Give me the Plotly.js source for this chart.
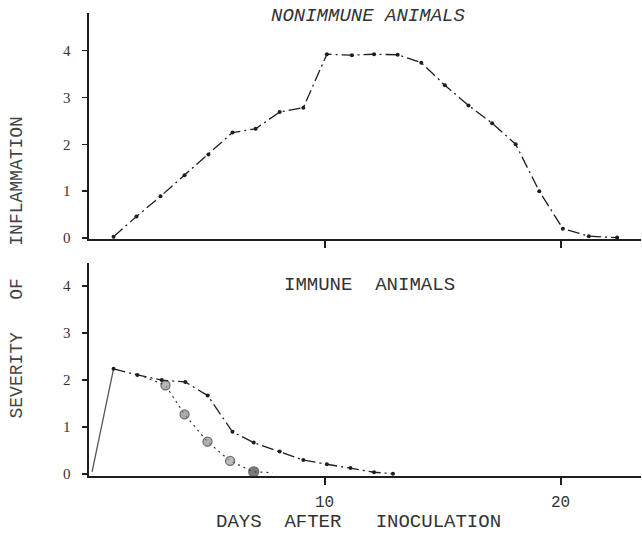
<!DOCTYPE html>
<html>
<head>
<meta charset="utf-8">
<script src="https://cdn.plot.ly/plotly-3.0.1.min.js"></script>
<style>html,body{margin:0;padding:0;background:#fff;}#chart{width:642px;height:540px;}</style>
</head>
<body>
<div id="chart"></div>
<script>
// ---- data ----
const nonImmuneDays = [1.06, 2.03, 3.05, 4.07, 5.08, 6.1, 7.08, 8.1, 9.1, 10.1, 11.16, 12.1, 13.1, 14.1, 15.1, 16.1, 17.1, 18.1, 19.1, 20.1, 21.2, 22.4];
const nonImmuneSeverity = [0.03, 0.46, 0.89, 1.34, 1.78, 2.25, 2.33, 2.69, 2.78, 3.92, 3.9, 3.92, 3.91, 3.74, 3.26, 2.83, 2.45, 2.0, 1.0, 0.2, 0.04, 0.01];

const immuneRiseDays = [0.15, 1.06];
const immuneRiseSeverity = [0.05, 2.24];

const immuneDays = [1.06, 2.07, 3.1, 4.1, 5.05, 6.1, 7.0, 8.1, 9.1, 10.1, 11.1, 12.1, 12.9];
const immuneSeverity = [2.24, 2.11, 2.0, 1.96, 1.67, 0.9, 0.67, 0.48, 0.3, 0.21, 0.13, 0.04, 0.01];

const immuneTreatedDays = [2.35, 3.26, 4.07, 5.04, 6.0, 7.0, 7.8];
const immuneTreatedSeverity = [2.07, 1.89, 1.27, 0.69, 0.28, 0.05, 0.03];

const xTickVals = [10, 20];
const xTickText = ["10", "20"];
const yTickVals = [0, 1, 2, 3, 4];
const yTickText = ["0", "1", "2", "3", "4"];

const ink = '#1e1e1e';
const dashDot = '12px,4px,2px,4px';

const traces = [
  {x: nonImmuneDays, y: nonImmuneSeverity, xaxis: 'x', yaxis: 'y', mode: 'lines+markers',
   line: {color: ink, width: 1.3, dash: dashDot}, marker: {color: ink, size: 4}},
  {x: immuneRiseDays, y: immuneRiseSeverity, xaxis: 'x2', yaxis: 'y2', mode: 'lines',
   line: {color: '#555', width: 1.3}},
  {x: immuneDays, y: immuneSeverity, xaxis: 'x2', yaxis: 'y2', mode: 'lines+markers',
   line: {color: ink, width: 1.3, dash: dashDot}, marker: {color: ink, size: 4}},
  {x: immuneTreatedDays, y: immuneTreatedSeverity, xaxis: 'x2', yaxis: 'y2', mode: 'lines+markers',
   line: {color: '#333', width: 1.2, dash: '2px,4px'},
   marker: {color: ['#222', '#9a9a9a', '#8a8a8a', '#909090', '#a0a0a0', '#444', '#222'],
            size: [0, 9, 9, 9, 9, 10, 0], line: {color: '#333', width: 1.3}}}
];

const xBase = {
  range: [0, 23.41], showline: true, linecolor: ink, linewidth: 1.5, showgrid: false, zeroline: false,
  tickmode: 'array', tickvals: xTickVals, ticktext: xTickText, ticks: 'outside', ticklen: 7,
  tickwidth: 2, tickcolor: ink, fixedrange: true
};
const yBase = {
  showline: true, linecolor: ink, linewidth: 2, showgrid: false, zeroline: false,
  tickmode: 'array', tickvals: yTickVals, ticktext: yTickText, ticks: 'outside', ticklen: 5,
  tickwidth: 1.5, tickcolor: ink, ticklabelstandoff: 8,
  tickfont: {family: 'Liberation Serif', size: 15, color: '#333'}, fixedrange: true
};

const layout = {
  width: 642, height: 540, margin: {l: 0, r: 0, t: 0, b: 0},
  paper_bgcolor: '#fff', plot_bgcolor: 'rgba(0,0,0,0)', showlegend: false,
  xaxis: Object.assign({}, xBase, {domain: [0.1379, 0.9984], anchor: 'y', showticklabels: false}),
  yaxis: Object.assign({}, yBase, {domain: [0.5574, 0.9759], range: [-0.02, 4.8], anchor: 'x'}),
  xaxis2: Object.assign({}, xBase, {domain: [0.1379, 0.9984], anchor: 'y2', showticklabels: true,
    ticklabelstandoff: 3, tickfont: {family: 'Liberation Mono', size: 16, color: '#333'}}),
  yaxis2: Object.assign({}, yBase, {domain: [0.1185, 0.5130], range: [-0.04, 4.49], anchor: 'x2'}),
  annotations: [
    {text: 'NONIMMUNE ANIMALS', xref: 'paper', yref: 'paper', x: 0.573, y: 0.970, showarrow: false,
     xanchor: 'center', yanchor: 'middle', font: {family: 'Liberation Mono', size: 19, color: '#333', style: 'italic'}},
    {text: 'IMMUNE\u00a0\u00a0ANIMALS', xref: 'paper', yref: 'paper', x: 0.575, y: 0.4722, showarrow: false,
     xanchor: 'center', yanchor: 'middle', font: {family: 'Liberation Mono', size: 19, color: '#333'}},
    {text: 'DAYS\u00a0\u00a0AFTER\u00a0\u00a0\u00a0INOCULATION', xref: 'paper', yref: 'paper', x: 0.5584, y: 0.0333,
     showarrow: false, xanchor: 'center', yanchor: 'middle', font: {family: 'Liberation Mono', size: 19, color: '#333'}},
    {text: 'SEVERITY\u00a0\u00a0\u00a0OF\u00a0\u00a0\u00a0INFLAMMATION', xref: 'paper', yref: 'paper', x: 0.0265, y: 0.5046,
     showarrow: false, textangle: -90, xanchor: 'center', yanchor: 'middle',
     font: {family: 'Liberation Mono', size: 18, color: '#444'}}
  ]
};

Plotly.newPlot('chart', traces, layout, {staticPlot: true, displayModeBar: false});
</script>
</body>
</html>
